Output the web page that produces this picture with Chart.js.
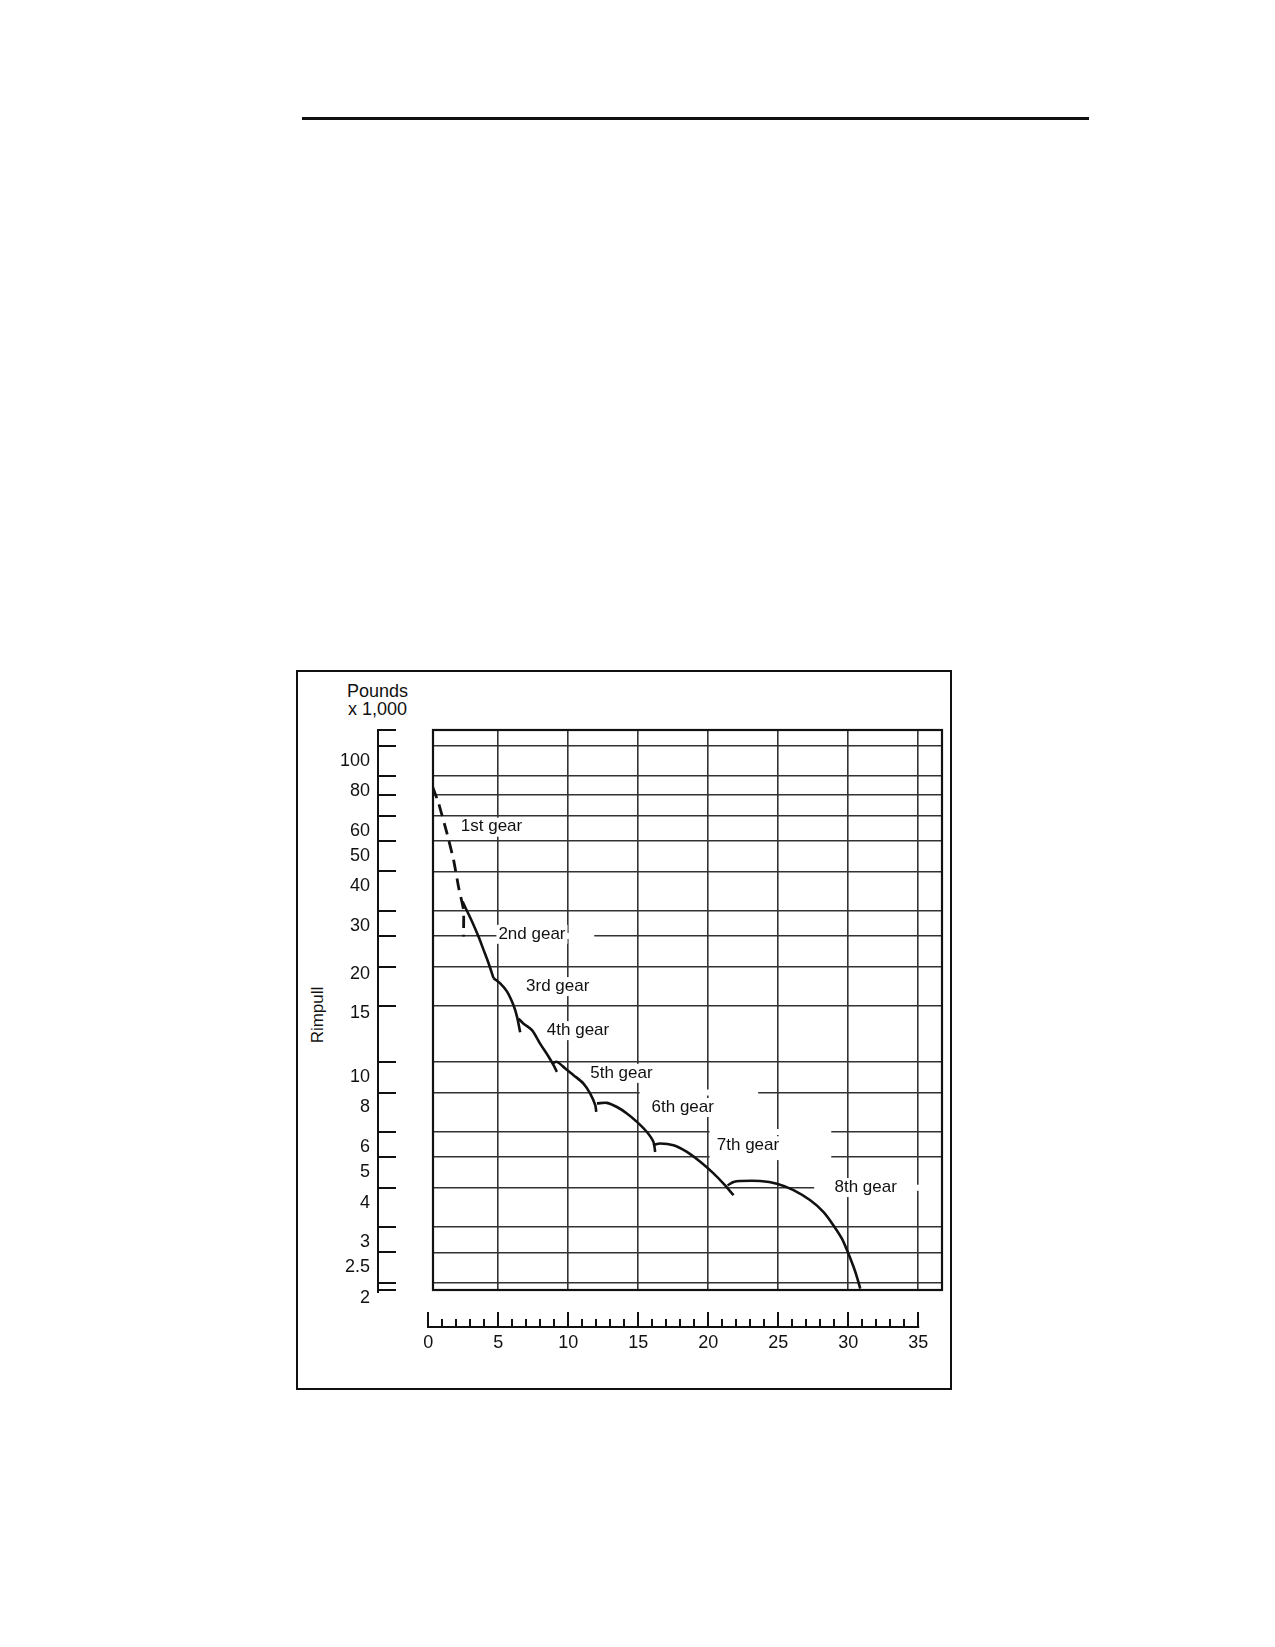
<!DOCTYPE html>
<html>
<head>
<meta charset="utf-8">
<script src="https://cdn.jsdelivr.net/npm/chart.js@4.4.0/dist/chart.umd.min.js"></script>
<style>
html,body{margin:0;padding:0;background:#fff;}
body{width:1275px;height:1647px;position:relative;overflow:hidden;font-family:"Liberation Sans",Arial,sans-serif;color:#111;}
#rule{position:absolute;left:302px;top:117px;width:787px;height:3px;background:#111;}
#frame{position:absolute;left:296px;top:670px;width:652px;height:716px;border:2px solid #111;}
#cv{position:absolute;left:0;top:0;width:1275px;height:1647px;}
.unit{position:absolute;left:317px;width:121px;text-align:center;font-size:18px;line-height:18px;}
#rimpull{position:absolute;left:278px;top:1005px;width:80px;height:20px;line-height:20px;text-align:center;font-size:17px;transform:rotate(-90deg);}
</style>
</head>
<body>
<div id="rule"></div>
<div id="frame"></div>
<div class="unit" style="top:682px;">Pounds</div>
<div class="unit" style="top:700px;">x 1,000</div>
<div id="rimpull">Rimpull</div>
<canvas id="cv" width="1275" height="1647"></canvas>
<script>
// ---- data (speed in mph, rimpull in pounds x 1,000) ----
const speedTicks = [0, 5, 10, 15, 20, 25, 30, 35];
const speedMinorTicks = [0,1,2,3,4,5,6,7,8,9,10,11,12,13,14,15,16,17,18,19,20,21,22,23,24,25,26,27,28,29,30,31,32,33,34,35];
const rimpullTicks = [100, 80, 70, 60, 50, 40, 30, 25, 20, 15, 10, 8, 6, 5, 4, 3, 2.5, 2];
const rimpullLabels = [100, 80, 60, 50, 40, 30, 20, 15, 10, 8, 6, 5, 4, 3, 2.5, 2];
const rimpullLabelsAtTick = [20, 15];

const gearNames = ['1st gear', '2nd gear', '3rd gear', '4th gear', '5th gear', '6th gear', '7th gear', '8th gear'];

const gear1 = [{x:0.31,y:74.1},{x:0.74,y:65.7},{x:1.34,y:52.8},{x:1.81,y:43.5},{x:2.16,y:35.8},{x:2.52,y:30.2},{x:2.52,y:24.9}];
const gear2 = [{x:2.45,y:32.1},{x:3.11,y:27.9},{x:3.59,y:24.9},{x:3.95,y:22.6},{x:4.31,y:20.5},{x:4.66,y:18.4}];
const gear3 = [{x:4.66,y:18.4},{x:5.14,y:17.7},{x:5.62,y:16.7},{x:6.09,y:15.1},{x:6.34,y:13.9},{x:6.57,y:12.4}];
const gear4 = [{x:6.45,y:13.7},{x:6.81,y:13.2},{x:7.41,y:12.6},{x:8.0,y:11.4},{x:8.59,y:10.4},{x:8.95,y:9.76},{x:9.19,y:9.3}];
const gear5 = [{x:8.84,y:9.88},{x:9.19,y:10.0},{x:9.79,y:9.53},{x:10.38,y:9.08},{x:11.09,y:8.54},{x:11.57,y:7.94},{x:11.93,y:7.3},{x:12.0,y:6.95}];
const gear6 = [{x:12.05,y:7.39},{x:12.76,y:7.42},{x:13.48,y:7.2},{x:14.19,y:6.87},{x:14.91,y:6.46},{x:15.62,y:6.0},{x:16.09,y:5.58},{x:16.21,y:5.19}];
const gear7 = [{x:16.05,y:5.45},{x:16.57,y:5.52},{x:17.52,y:5.45},{x:18.48,y:5.19},{x:19.43,y:4.83},{x:20.38,y:4.44},{x:21.09,y:4.12},{x:21.81,y:3.79}];
const gear8 = [{x:21.38,y:4.07},{x:21.81,y:4.17},{x:22.29,y:4.2},{x:23.71,y:4.2},{x:24.91,y:4.12},{x:26.09,y:3.93},{x:27.29,y:3.65},{x:28.24,y:3.35},{x:28.95,y:3.04},{x:29.55,y:2.76},{x:29.91,y:2.54},{x:30.38,y:2.25},{x:30.62,y:2.09},{x:30.86,y:1.92}];

// ---- annotation anchors (data units) ----
const gearLabelX = [4.52, 7.41, 9.25, 10.70, 13.80, 18.18, 22.84, 31.25];
const gearLabelY = [55.4, 25.4, 17.36, 12.6, 9.23, 7.2, 5.45, 4.02];
const gridGaps = [
  {y: 25, from: 5.1, to: 11.86},
  {y: 8, from: 15.1, to: 23.57},
  {y: 6, from: 20.1, to: 28.79},
  {y: 5, from: 20.1, to: 28.79},
  {y: 4, from: 27.57, to: 36.7}
];

const FONT = '"Liberation Sans", Arial, sans-serif';
const INK = '#111';
const GRID = '#333';
Chart.defaults.font.family = FONT;
Chart.defaults.color = INK;

const rulerPlugin = {
  id: 'rulers',
  beforeDatasetsDraw(chart) {
    const {ctx, chartArea: a} = chart;
    const xs = chart.scales.x, ys = chart.scales.y;
    ctx.save();
    // gaps in grid lines
    ctx.fillStyle = '#fff';
    gridGaps.forEach(g => {
      const py = ys.getPixelForValue(g.y);
      const x0 = xs.getPixelForValue(g.from), x1 = Math.min(xs.getPixelForValue(g.to), a.right);
      ctx.fillRect(x0, py - 3, x1 - x0, 6);
    });
    // gear labels with white backgrounds
    ctx.font = '17px ' + FONT;
    ctx.textAlign = 'center';
    ctx.textBaseline = 'middle';
    gearNames.forEach((name, i) => {
      const px = xs.getPixelForValue(gearLabelX[i]);
      const py = ys.getPixelForValue(gearLabelY[i]);
      const w = ctx.measureText(name).width;
      ctx.fillStyle = '#fff';
      ctx.fillRect(px - w / 2 - 2, py - 9, w + 4, 19);
      ctx.fillStyle = INK;
      ctx.fillText(name, px, py);
    });
    // plot frame
    ctx.strokeStyle = INK;
    ctx.lineWidth = 2.2;
    ctx.strokeRect(a.left, a.top, a.right - a.left, a.bottom - a.top);
    // left ruler
    ctx.lineWidth = 2;
    ctx.lineCap = 'square';
    const rx = a.left - 55;
    ctx.beginPath();
    ctx.moveTo(rx, ys.getPixelForValue(ys.max));
    ctx.lineTo(rx, ys.getPixelForValue(ys.min) + 2);
    ctx.stroke();
    [ys.max].concat(rimpullTicks, [ys.min]).forEach(v => {
      const py = Math.round(ys.getPixelForValue(v));
      ctx.beginPath();
      ctx.moveTo(rx, py);
      ctx.lineTo(rx + 17, py);
      ctx.stroke();
    });
    // bottom ruler
    const by = a.bottom + 37;
    ctx.beginPath();
    ctx.moveTo(xs.getPixelForValue(speedMinorTicks[0]), by);
    ctx.lineTo(xs.getPixelForValue(speedMinorTicks[speedMinorTicks.length - 1]), by);
    ctx.stroke();
    speedMinorTicks.forEach(v => {
      const px = Math.round(xs.getPixelForValue(v));
      const h = speedTicks.includes(v) ? 14 : 7;
      ctx.beginPath();
      ctx.moveTo(px, by);
      ctx.lineTo(px, by - h);
      ctx.stroke();
    });
    ctx.restore();
  }
};

function gearDataset(data, dashed) {
  return {
    data: data,
    borderColor: INK,
    borderWidth: dashed ? 2.8 : 2.6,
    borderDash: dashed ? [12, 7] : [],
    pointRadius: 0,
    fill: false,
    tension: dashed ? 0.15 : 0.3
  };
}

new Chart(document.getElementById('cv'), {
  type: 'line',
  data: {
    datasets: [
      gearDataset(gear1, true),
      gearDataset(gear2), gearDataset(gear3), gearDataset(gear4),
      gearDataset(gear5), gearDataset(gear6), gearDataset(gear7), gearDataset(gear8)
    ]
  },
  options: {
    responsive: false,
    devicePixelRatio: 1,
    animation: false,
    layout: {padding: {left: 300, top: 730, right: 333, bottom: 287}},
    plugins: {legend: {display: false}, tooltip: {enabled: false}, title: {display: false}},
    scales: {
      x: {
        type: 'linear', position: 'bottom', min: 0.34, max: 36.7,
        afterBuildTicks: s => { s.ticks = speedTicks.map(v => ({value: v})); },
        afterFit: s => { s.height = 70; },
        grid: {
          color: c => (c.tick && c.tick.value === 0) ? 'rgba(0,0,0,0)' : GRID,
          lineWidth: 1.6, drawTicks: false
        },
        border: {display: false},
        ticks: {autoSkip: false, maxRotation: 0, padding: 42, color: INK,
                font: {size: 18}, callback: v => String(v)}
      },
      y: {
        type: 'logarithmic', position: 'left', weight: 0, min: 1.9, max: 112,
        afterBuildTicks: s => { s.ticks = rimpullTicks.map(v => ({value: v})); },
        afterFit: s => { s.width = 133; },
        grid: {color: GRID, lineWidth: 1.6, drawTicks: false},
        border: {display: false},
        ticks: {autoSkip: false, padding: 63, labelOffset: 15, color: INK, font: {size: 18},
                callback: v => (rimpullLabels.includes(v) && !rimpullLabelsAtTick.includes(v)) ? String(v) : ''}
      },
      y2: {
        type: 'logarithmic', position: 'left', weight: 1, min: 1.9, max: 112,
        afterBuildTicks: s => { s.ticks = rimpullLabelsAtTick.map(v => ({value: v})); },
        afterFit: s => { s.width = 0; },
        grid: {display: false, drawTicks: false},
        border: {display: false},
        ticks: {autoSkip: false, mirror: true, padding: 50, labelOffset: 7, color: INK, font: {size: 18},
                callback: v => String(v)}
      }
    }
  },
  plugins: [rulerPlugin]
});
</script>
</body>
</html>
